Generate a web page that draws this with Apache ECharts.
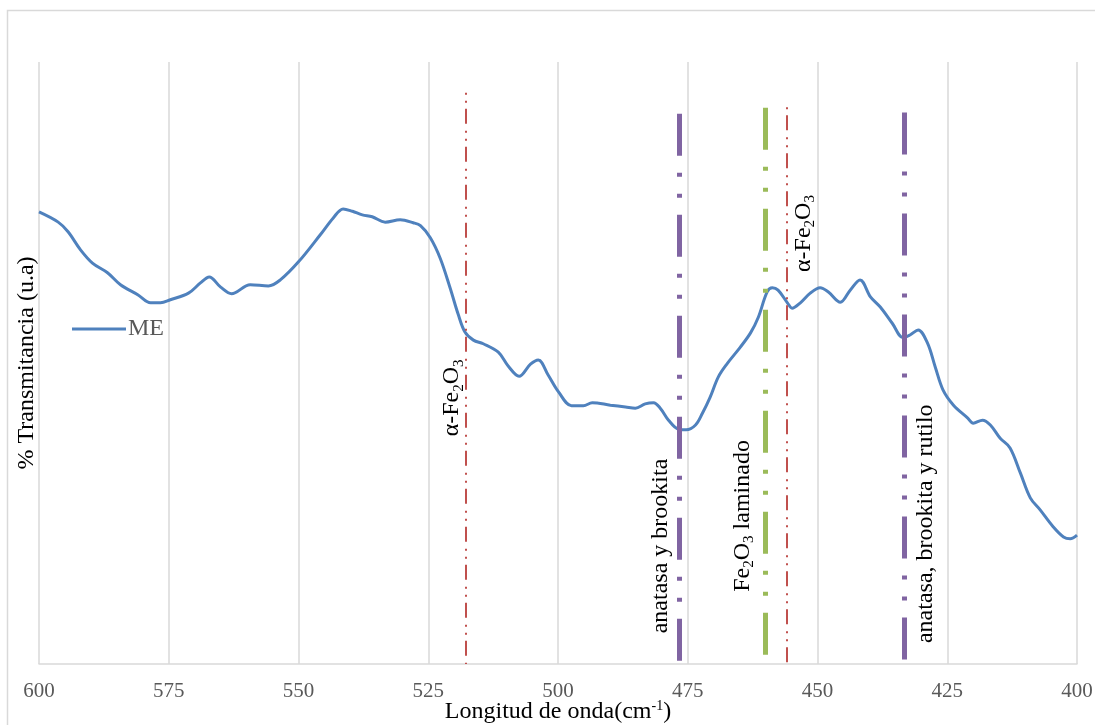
<!DOCTYPE html>
<html><head><meta charset="utf-8">
<script src="https://cdn.jsdelivr.net/npm/echarts@6/dist/echarts.min.js"></script>
<style>html,body{margin:0;padding:0;background:#fff}#c{width:1095px;height:725px}</style>
</head><body><div id="c"></div>
<script>
// ---- data ----
const seriesName = 'ME';
const wavenumber = [600.0,596.3,594.4,592.0,589.7,586.8,584.3,580.9,578.5,576.6,574.7,571.2,568.9,567.2,565.0,562.9,559.3,555.8,553.5,550.0,545.8,543.3,541.4,539.6,537.7,535.8,533.3,530.4,527.9,526.5,524.6,522.7,520.8,519.2,517.9,516.3,514.4,511.5,509.6,507.5,505.3,503.8,501.9,499.9,497.4,495.1,493.4,489.9,487.0,485.1,483.2,481.6,480.3,478.7,476.8,475.3,473.5,472.2,470.7,469.1,467.4,464.9,462.9,461.4,459.7,458.7,457.6,455.8,454.9,453.3,451.4,449.5,447.9,445.6,443.7,441.8,439.8,437.9,435.6,433.5,432.1,430.6,428.8,427.3,425.8,423.8,421.1,420.0,418.2,416.7,414.8,412.9,410.9,409.0,407.1,404.6,402.6,401.3,400.0];
const transmittance = [75.1,73.4,71.8,68.8,66.6,65.0,63.0,61.3,60.0,60.0,60.5,61.6,63.3,64.3,62.6,61.5,63.0,62.8,63.8,66.8,71.3,74.1,75.6,75.2,74.6,74.3,73.4,73.8,73.3,72.8,70.8,67.4,62.5,58.0,55.1,53.8,53.2,51.8,49.5,47.8,49.8,50.5,48.0,45.2,42.9,42.9,43.4,43.0,42.7,42.5,43.2,43.4,42.5,40.5,39.0,38.9,39.7,41.6,44.3,47.7,49.9,52.6,55.0,57.6,61.8,62.5,62.1,60.0,59.1,60.0,61.6,62.5,61.8,60.1,62.1,63.8,61.0,59.3,56.6,54.2,54.7,55.5,53.3,49.3,45.5,43.0,40.9,40.0,40.5,39.7,37.5,35.9,31.7,27.6,25.6,22.8,21.1,20.8,21.4];
const xTickMin = 400, xTickMax = 600, xTickStep = 25;
// annotation lines (wavenumber) and their top (value)
const markerPos = [517.7, 476.6, 460.0, 455.9, 433.2];
const markerTop = [94.9, 91.4, 92.4, 92.5, 91.6];
const markerKind = ['red', 'purple', 'green', 'red2', 'purple'];
// annotation labels: rich text, anchor (wavenumber, value)
const labelText = [
  '{n|α-Fe}{s|2}{n|O}{s|3}',
  '{n|anatasa y brookita}',
  '{n|Fe}{s|2}{n|O}{s|3}{n| laminado}',
  '{n|α-Fe}{s|2}{n|O}{s|3}',
  '{n|anatasa, brookita y rutilo}'
];
const labelX = [520.4, 480.3, 464.5, 452.7, 429.2];
const labelY = [44.2, 19.6, 24.6, 71.5, 23.3];

// ---- styles ----
const serif = '"Liberation Serif", "Times New Roman", serif';
const lineStyles = {
  red:    {color:'#C0504D', width:2, type:[2,6,2,6,15,7], dashOffset:0, cap:'butt'},
  red2:   {color:'#C0504D', width:2, type:[2,6,2,6,15,7], dashOffset:8, cap:'butt'},
  purple: {color:'#8064A2', width:5, type:[42,17,4,17,4,17], dashOffset:0, cap:'butt'},
  green:  {color:'#9BBB59', width:5, type:[42,17,4,17,4,17], dashOffset:0, cap:'butt'}
};
const richLabel = {
  n: {fontFamily: serif, fontSize: 24, color:'#000', lineHeight: 28},
  s: {fontFamily: serif, fontSize: 15, color:'#000', lineHeight: 15, verticalAlign:'bottom'}
};
const border = {
  type: 'rect', silent: true, z: -1,
  shape: {x: 7.5, y: 10.5, width: 1100, height: 730},
  style: {fill: 'none', stroke: '#D9D9D9', lineWidth: 1.5}
};

const chart = echarts.init(document.getElementById('c'), null, {renderer:'canvas'});
const data = wavenumber.map((w,i)=>[w, transmittance[i]]);

chart.setOption({
  animation: false,
  backgroundColor: '#fff',
  grid: {left: 39, right: 18, top: 62, bottom: 61, containLabel: false, outerBoundsMode: 'none'},
  legend: {
    data: [seriesName], left: 72, top: 317, padding: 0, itemWidth: 54, itemHeight: 14,
    icon: 'path://M0,6 L54,6 L54,9 L0,9 Z',
    itemStyle: {color:'#4F81BD'},
    textStyle: {fontFamily: serif, fontSize: 24, color:'#595959', padding:[0,0,0,-3]}
  },
  xAxis: {
    type: 'value', min: xTickMin, max: xTickMax, interval: xTickStep, inverse: true,
    name: '{a|Longitud de onda(cm}{p|-1}{a|)}', nameLocation: 'middle', nameGap: 35,
    nameMoveOverlap: false,
    nameTextStyle: {rich: {
      a: {fontFamily: serif, fontSize: 24, color:'#000', lineHeight: 26},
      p: {fontFamily: serif, fontSize: 14, color:'#000', lineHeight: 14, verticalAlign:'top'}
    }},
    axisLine: {show: true, lineStyle: {color:'#D9D9D9', width: 1.5}},
    axisTick: {show: false},
    axisLabel: {fontFamily: serif, fontSize: 21, color:'#595959', margin: 17},
    splitLine: {show: true, lineStyle: {color:'#D9D9D9', width: 1.5}}
  },
  yAxis: {
    type: 'value', min: 0, max: 100,
    name: '% Transmitancia (u.a)', nameLocation: 'middle', nameGap: 0, nameMoveOverlap: false,
    nameTextStyle: {fontFamily: serif, fontSize: 24, color:'#000'},
    axisLine: {show: false}, axisTick: {show: false}, axisLabel: {show: false},
    splitLine: {show: false}
  },
  graphic: [border],
  series: [{
    name: seriesName, type: 'line', data: data, smooth: 0.35, symbol: 'none',
    lineStyle: {color:'#4F81BD', width: 3}, itemStyle: {color:'#4F81BD'}, z: 3,
    markLine: {
      silent: true, symbol: ['none','none'], label: {show: false}, animation: false,
      data: markerPos.map((p,i)=>[
        {coord: [p, markerTop[i]], lineStyle: lineStyles[markerKind[i]]},
        {coord: [p, 0]}
      ])
    }
  }]
});

const labelGraphics = labelText.map((t,i)=>{
  const pt = chart.convertToPixel({gridIndex: 0}, [labelX[i], labelY[i]]);
  return {
    type: 'text', silent: true, z: 10, x: pt[0], y: pt[1], rotation: Math.PI/2,
    style: {text: t, rich: richLabel, align: 'center', verticalAlign: 'middle'}
  };
});
chart.setOption({graphic: [border].concat(labelGraphics)});
</script></body></html>
